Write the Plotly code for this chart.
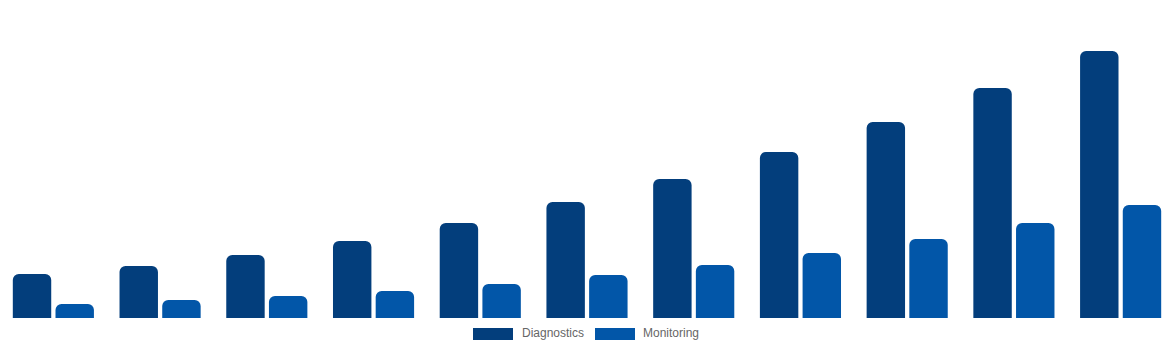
import plotly.graph_objects as go

categories = ["2020", "2021", "2022", "2023", "2024", "2025", "2026", "2027", "2028", "2029", "2030"]
diagnostics = [4.4, 5.2, 6.3, 7.7, 9.5, 11.6, 13.9, 16.6, 19.6, 23.0, 26.7]
monitoring = [1.4, 1.8, 2.2, 2.7, 3.4, 4.3, 5.3, 6.5, 7.9, 9.5, 11.3]
series_names = ["Diagnostics", "Monitoring"]
series_colors = ["#033e7c", "#0256a8"]

W, H = 1174, 350
PLOT_BOTTOM = 318  # pixel row of baseline

fig = go.Figure()
for name, vals, col in zip(series_names, [diagnostics, monitoring], series_colors):
    fig.add_trace(go.Bar(
        x=categories, y=vals, name=name,
        marker=dict(color=col, line=dict(width=0), cornerradius=6),
        showlegend=False,
    ))

# Custom legend (wide rectangles like the reference)
def py(pix):
    return (PLOT_BOTTOM - pix) / PLOT_BOTTOM

legend_rects = [(473, 513), (595, 635)]
legend_text_x = [520, 641]
shapes = []
annotations = []
for (x0, x1), tx, name, col in zip(legend_rects, legend_text_x, series_names, series_colors):
    shapes.append(dict(type="rect", xref="paper", yref="paper",
                       x0=x0 / W, x1=x1 / W, y0=py(340), y1=py(328),
                       fillcolor=col, line=dict(width=0), layer="above"))
    annotations.append(dict(text=name, xref="paper", yref="paper",
                            x=tx / W, y=py(333), xanchor="left", yanchor="middle",
                            showarrow=False, font=dict(family="Liberation Sans, Arial", size=12, color="#666666")))

fig.update_layout(
    width=W, height=H,
    margin=dict(l=0, r=0, t=0, b=H - PLOT_BOTTOM, pad=0),
    paper_bgcolor="white", plot_bgcolor="white",
    barmode="group", bargap=0.2, bargroupgap=0.1,
    xaxis=dict(type="category", range=[-0.5, len(categories) - 0.5], visible=False, fixedrange=True),
    yaxis=dict(range=[0, 31.8], visible=False, fixedrange=True),
    shapes=shapes, annotations=annotations,
)

fig.write_html("out.html", config={"displayModeBar": False})
